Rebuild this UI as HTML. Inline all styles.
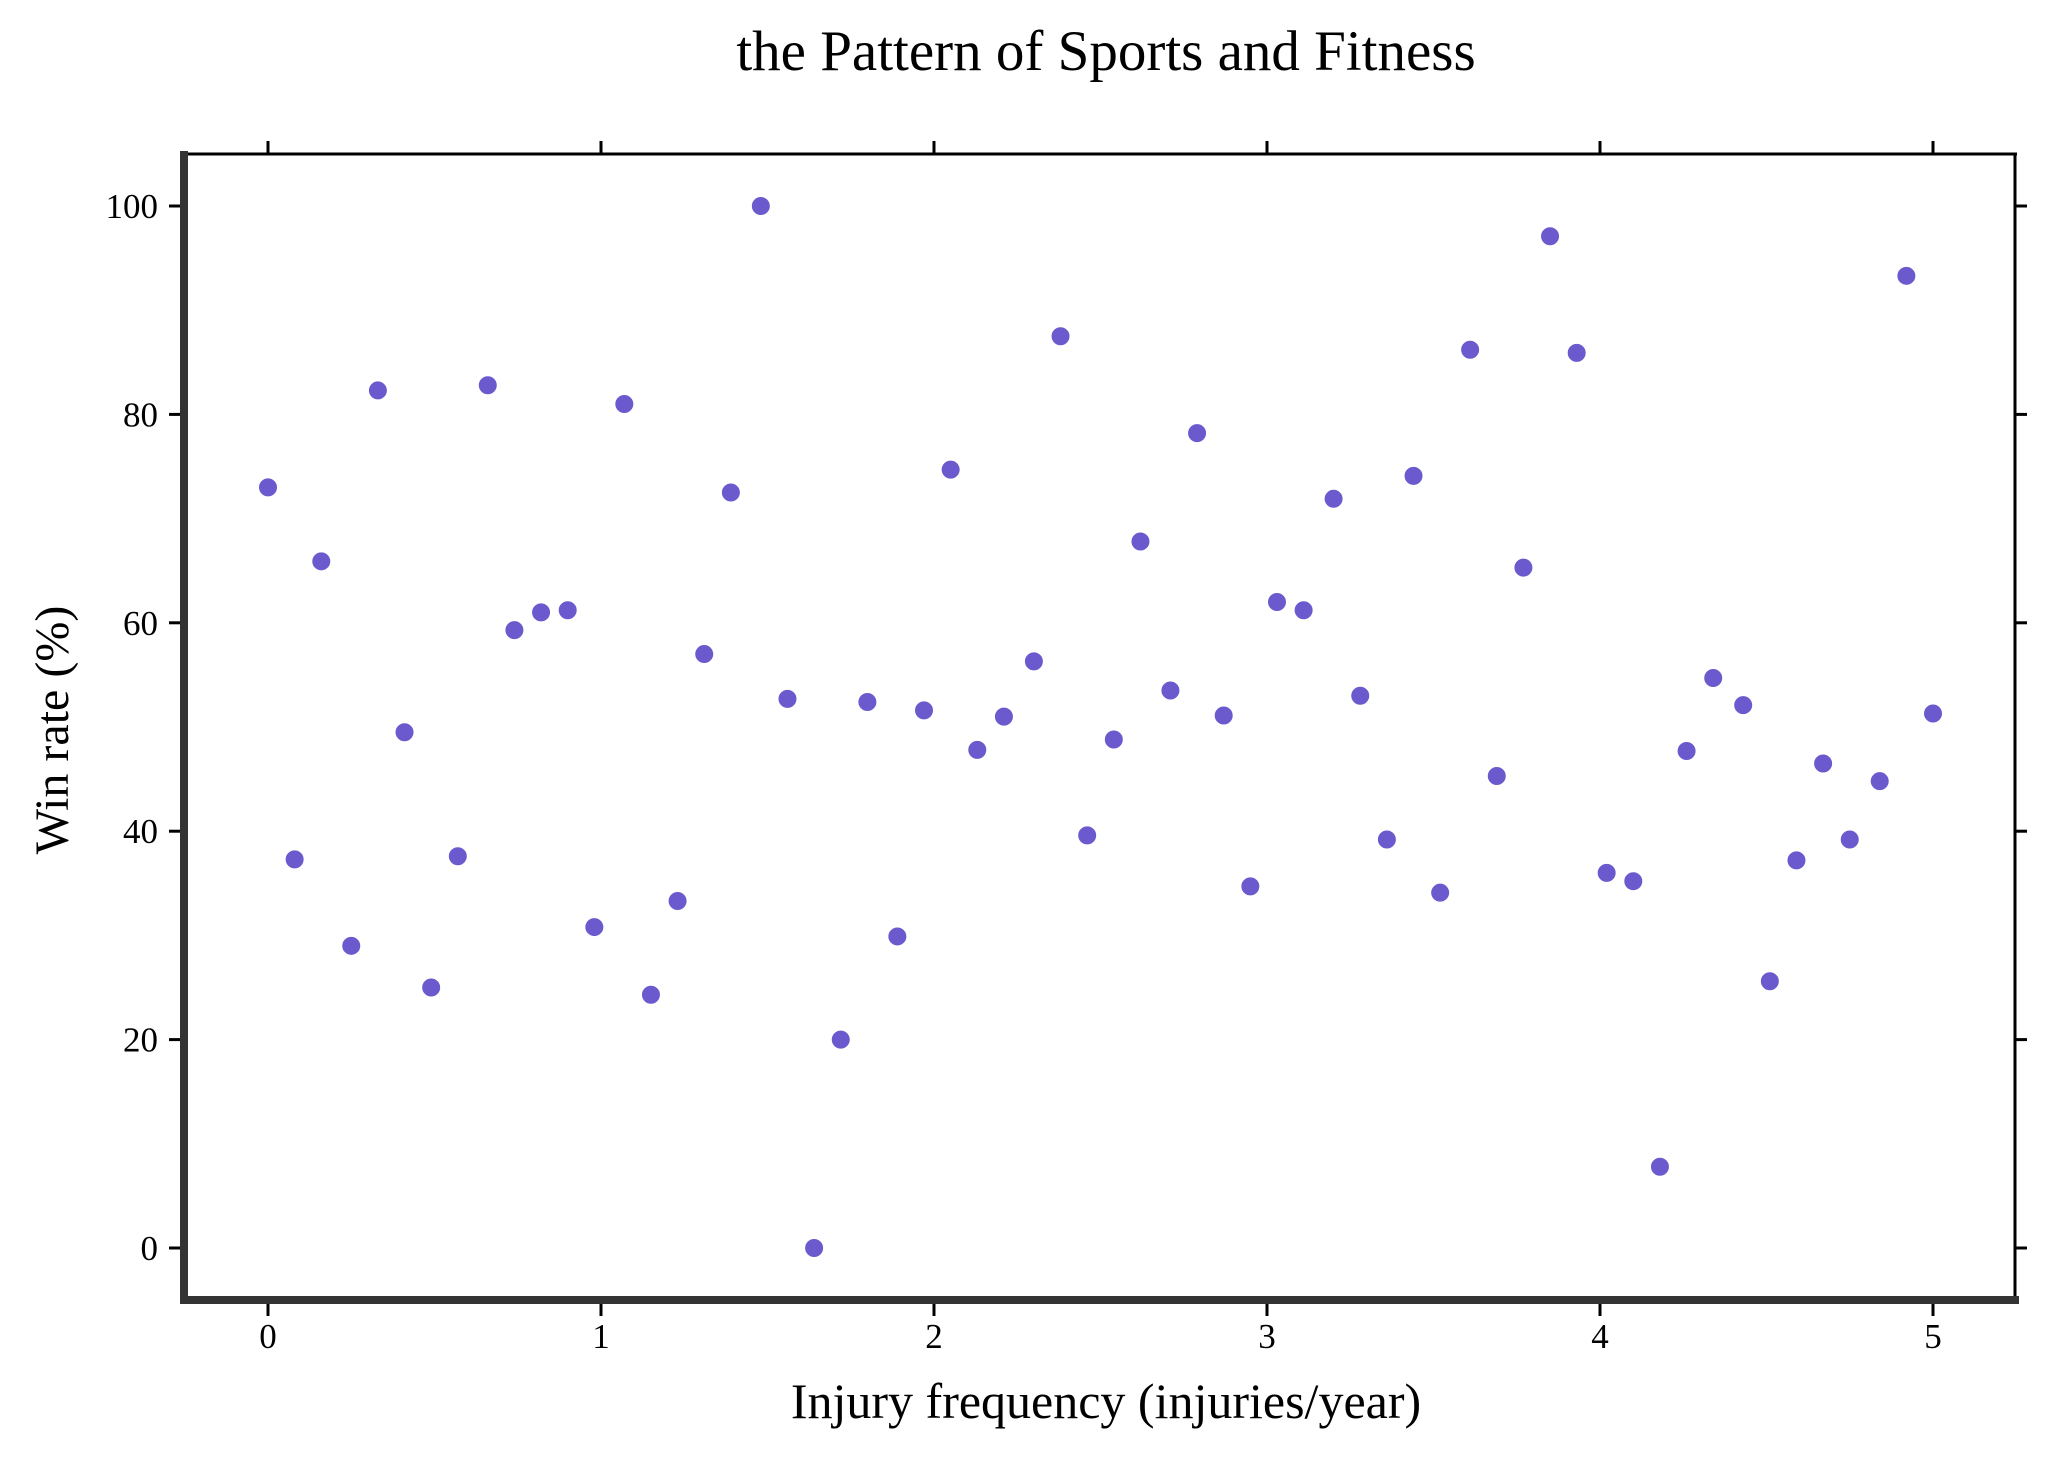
<!DOCTYPE html>
<html><head><meta charset="utf-8"><style>
body{margin:0;background:#fff;}
svg text{font-family:"Liberation Serif",serif;fill:#000;}
</style></head><body>
<svg id="chart" width="2060" height="1460" xmlns="http://www.w3.org/2000/svg">
<rect width="2060" height="1460" fill="#fff"/>
<text x="1106" y="70" font-size="57" text-anchor="middle">the Pattern of Sports and Fitness</text>
<text x="1106" y="1418" font-size="50" text-anchor="middle">Injury frequency (injuries/year)</text>
<text transform="translate(68,730) rotate(-90)" font-size="48" text-anchor="middle">Win rate (%)</text>
<g id="ticks"></g>
<g id="points"></g>
<line x1="183" y1="154" x2="2017" y2="154" stroke="#000" stroke-width="3"/>
<line x1="2015" y1="153" x2="2015" y2="1300" stroke="#000" stroke-width="3"/>
<line x1="184" y1="151" x2="184" y2="1304" stroke="#333" stroke-width="8"/>
<line x1="180" y1="1300" x2="2019" y2="1300" stroke="#333" stroke-width="8"/>
</svg>
<script>
const xValues=[0,0.08,0.16,0.25,0.33,0.41,0.49,0.57,0.66,0.74,0.82,0.90,0.98,1.07,1.15,1.23,1.31,1.39,1.48,1.56,1.64,1.72,1.80,1.89,1.97,2.05,2.13,2.21,2.30,2.38,2.46,2.54,2.62,2.71,2.79,2.87,2.95,3.03,3.11,3.20,3.28,3.36,3.44,3.52,3.61,3.69,3.77,3.85,3.93,4.02,4.10,4.18,4.26,4.34,4.43,4.51,4.59,4.67,4.75,4.84,4.92,5.00];
const winRates=[73,37.3,65.9,29,82.3,49.5,25,37.6,82.8,59.3,61,61.2,30.8,81,24.3,33.3,57,72.5,100,52.7,0,20,52.4,29.9,51.6,74.7,47.8,51,56.3,87.5,39.6,48.8,67.8,53.5,78.2,51.1,34.7,62,61.2,71.9,53,39.2,74.1,34.1,86.2,45.3,65.3,97.1,85.9,36,35.2,7.8,47.7,54.7,52.1,25.6,37.2,46.5,39.2,44.8,93.3,51.3];
const xTicks=[0,1,2,3,4,5];
const yTicks=[0,20,40,60,80,100];
const NS="http://www.w3.org/2000/svg";
function sx(v){return 268+v*333;}
function sy(v){return 1248-v*10.42;}
const tg=document.getElementById('ticks');
function ln(x1,y1,x2,y2,name){const l=document.createElementNS(NS,'line');l.setAttribute('x1',x1);l.setAttribute('y1',y1);l.setAttribute('x2',x2);l.setAttribute('y2',y2);l.setAttribute('stroke','#000');l.setAttribute('stroke-width','3');


tg.appendChild(l);}
function tx(x,y,s,anchor,name){const t=document.createElementNS(NS,'text');t.setAttribute('x',x);t.setAttribute('y',y);t.setAttribute('font-size','35');t.setAttribute('text-anchor',anchor);t.textContent=s;


tg.appendChild(t);}
xTicks.forEach(v=>{const x=sx(v);ln(x,1304,x,1316,'x-tick');ln(x,153,x,141,'x-tick-top');tx(x,1348,String(v),'middle','x-tick-label');});
yTicks.forEach(v=>{const y=sy(v);ln(180,y,169,y,'y-tick');ln(2015,y,2027,y,'y-tick-right');tx(158,y+12,String(v),'end','y-tick-label');});
const pg=document.getElementById('points');
xValues.forEach((x,i)=>{const c=document.createElementNS(NS,'circle');c.setAttribute('cx',sx(x));c.setAttribute('cy',sy(winRates[i]));c.setAttribute('r','9.5');c.setAttribute('fill','#6a5acd');c.setAttribute('stroke','#fff');c.setAttribute('stroke-width','1');


pg.appendChild(c);});
</script>
</body></html>
